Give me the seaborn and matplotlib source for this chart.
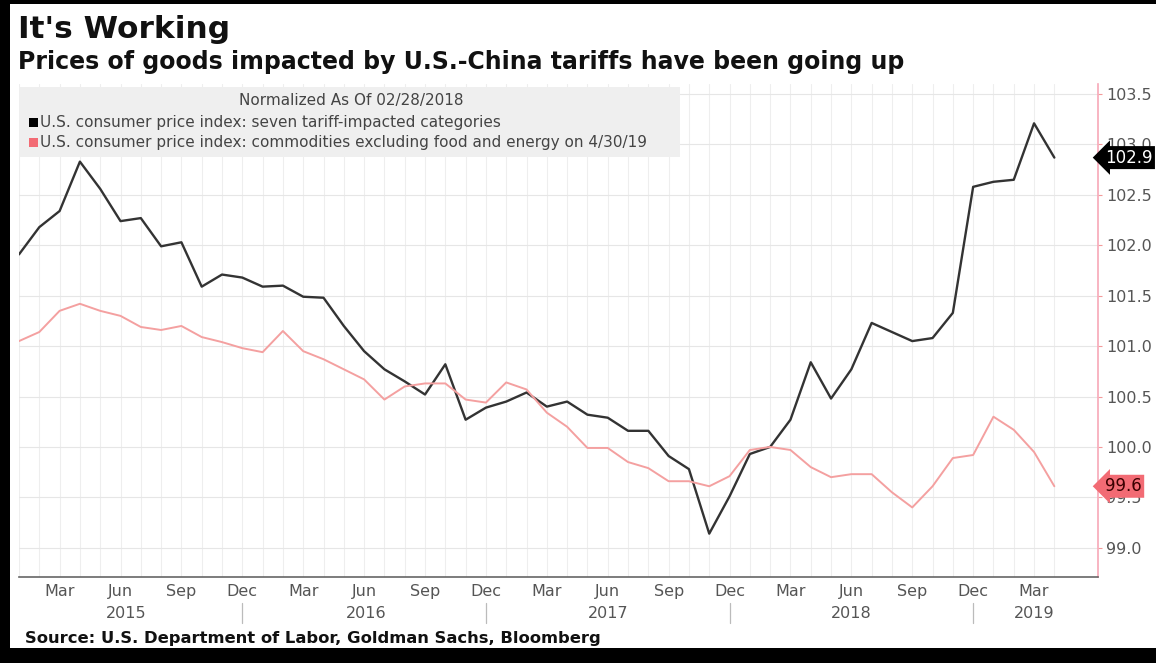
import numpy as np
import pandas as pd
import matplotlib
matplotlib.use("Agg")
import matplotlib.pyplot as plt
import seaborn as sns
from matplotlib.patches import Rectangle

# Monthly data, Jan 2015 .. Apr 2019 (normalized, Feb 2018 = 100)
months = pd.date_range("2015-01-01", "2019-04-01", freq="MS")

tariff_cats = [101.91, 102.18, 102.34, 102.83, 102.56, 102.24, 102.27, 101.99, 102.03, 101.59,
               101.71, 101.68, 101.59, 101.60, 101.49, 101.48, 101.20, 100.95, 100.77, 100.65,
               100.52, 100.82, 100.27, 100.39, 100.45, 100.54, 100.40, 100.45, 100.32, 100.29,
               100.16, 100.16, 99.91, 99.78, 99.14, 99.51, 99.93, 100.00, 100.27, 100.84,
               100.48, 100.77, 101.23, 101.14, 101.05, 101.08, 101.33, 102.58, 102.63, 102.65,
               103.21, 102.87]

core_goods = [101.05, 101.14, 101.35, 101.42, 101.35, 101.30, 101.19, 101.16, 101.20, 101.09,
              101.04, 100.98, 100.94, 101.15, 100.95, 100.87, 100.77, 100.67, 100.47, 100.60,
              100.63, 100.63, 100.47, 100.44, 100.64, 100.57, 100.34, 100.20, 99.99, 99.99,
              99.85, 99.79, 99.66, 99.66, 99.61, 99.71, 99.97, 100.00, 99.97, 99.80,
              99.70, 99.73, 99.73, 99.55, 99.40, 99.61, 99.89, 99.92, 100.30, 100.17,
              99.95, 99.61]

series_names = ["U.S. consumer price index: seven tariff-impacted categories",
                "U.S. consumer price index: commodities excluding food and energy on 4/30/19"]
series_colors = ["#333333", "#f4a0a0"]

y_ticks = [99.0, 99.5, 100.0, 100.5, 101.0, 101.5, 102.0, 102.5, 103.0, 103.5]

idx = np.arange(len(months))
df = pd.DataFrame({"idx": np.concatenate([idx, idx]),
                   "value": tariff_cats + core_goods,
                   "series": [series_names[0]] * len(idx) + [series_names[1]] * len(idx)})

sns.set_style("white")
plt.rcParams["font.family"] = ["DejaVu Sans"]

fig = plt.figure(figsize=(11.56, 6.63), dpi=100, facecolor="black")
# white card on black frame
fig.patches.append(Rectangle((10 / 1156, 15 / 663), 1, 644 / 663, transform=fig.transFigure,
                             facecolor="white", edgecolor="none", zorder=-10))

ax = fig.add_axes([19 / 1156, 1 - 577 / 663, (1098 - 19) / 1156, (577 - 84) / 663])
ax.set_facecolor("white")

sns.lineplot(data=df, x="idx", y="value", hue="series", palette=series_colors,
             linewidth=1.7, legend=False, ax=ax, zorder=3)
ax.lines[1].set_linewidth(1.4)

ax.set_xlim(0, 53.15)
ax.set_ylim(98.71, 103.6)

# grid
for i in idx:
    ax.axvline(i, color="#eeeeee", lw=0.8, zorder=0)
for v in y_ticks:
    ax.axhline(v, color="#e6e6e6", lw=0.8, zorder=0)

# y axis on right
ax.yaxis.tick_right()
ax.set_yticks(y_ticks)
ax.set_yticklabels([f"{v:.1f}" for v in y_ticks], fontsize=11.5, color="#555555")
ax.tick_params(axis="y", length=3, color="#f39a9a", pad=3)
for s in ["top", "left"]:
    ax.spines[s].set_visible(False)
ax.spines["right"].set_color("#f7a8b8")
ax.spines["right"].set_linewidth(1.2)
ax.spines["bottom"].set_color("#666666")
ax.spines["bottom"].set_linewidth(1.2)

# x axis: month labels + years
label_idx = [m for m in idx if months[m].month in (3, 6, 9, 12)]
ax.set_xticks(label_idx)
ax.set_xticks(idx, minor=True)
ax.set_xticklabels([months[m].strftime("%b") for m in label_idx], fontsize=11.5, color="#555555")
ax.tick_params(axis="x", which="both", length=3, direction="in", color="#888888", pad=5)
ax.set_xlabel("")
ax.set_ylabel("")

years = ["2015", "2016", "2017", "2018", "2019"]
year_pos = [5.3, 17.1, 29, 41, 50]
for yr, p in zip(years, year_pos):
    ax.text(p, -0.074, yr, transform=ax.get_xaxis_transform(), ha="center", va="center",
            fontsize=11.5, color="#555555")
for p in [11, 23, 35, 47]:
    ax.plot([p, p], [-0.052, -0.093], transform=ax.get_xaxis_transform(), color="#bbbbbb",
            lw=0.9, clip_on=False)

# legend block
ax.add_patch(Rectangle((0, 1 - (157 - 84) / 493), (680 - 19) / 1079, (157 - 87) / 493,
                       transform=ax.transAxes, facecolor="#efefef", edgecolor="none", zorder=1))
fig.text(351 / 1156, 1 - 101 / 663, "Normalized As Of 02/28/2018", ha="center", va="center",
         fontsize=11, color="#444444")
for k, (name, col) in enumerate(zip(series_names, series_colors)):
    yy = 1 - (122 + 20 * k) / 663
    fig.patches.append(Rectangle((29 / 1156, yy - 4.5 / 663), 9 / 1156, 9 / 663,
                                 transform=fig.transFigure, facecolor="black" if k == 0 else "#f26b74",
                                 edgecolor="none"))
    fig.text(40 / 1156, yy, name, ha="left", va="center", fontsize=11, color="#444444")

# last value tags
ax.annotate(f"{tariff_cats[-1]:.1f}", xy=(1.0, tariff_cats[-1]),
            xycoords=("axes fraction", "data"), xytext=(5, 0), textcoords="offset points",
            ha="left", va="center", fontsize=12, color="white", annotation_clip=False,
            bbox=dict(boxstyle="larrow,pad=0.15", fc="black", ec="none"), zorder=5)
ax.annotate(f"{core_goods[-1]:.1f}", xy=(1.0, core_goods[-1]),
            xycoords=("axes fraction", "data"), xytext=(5, 0), textcoords="offset points",
            ha="left", va="center", fontsize=12, color="#3a0000", annotation_clip=False,
            bbox=dict(boxstyle="larrow,pad=0.15", fc="#f26b74", ec="none"), zorder=5)

# titles
fig.text(18 / 1156, 1 - 30 / 663, "It's Working", ha="left", va="center",
         fontsize=22.5, fontweight="bold", color="#111111")
fig.text(18 / 1156, 1 - 62 / 663,
         "Prices of goods impacted by U.S.-China tariffs have been going up",
         ha="left", va="center", fontsize=17, fontweight="bold", color="#111111")
fig.text(25 / 1156, 1 - 638 / 663, "Source: U.S. Department of Labor, Goldman Sachs, Bloomberg",
         ha="left", va="center", fontsize=11.8, fontweight="bold", color="#111111")

fig.savefig("out.png", dpi=100, facecolor="black")
